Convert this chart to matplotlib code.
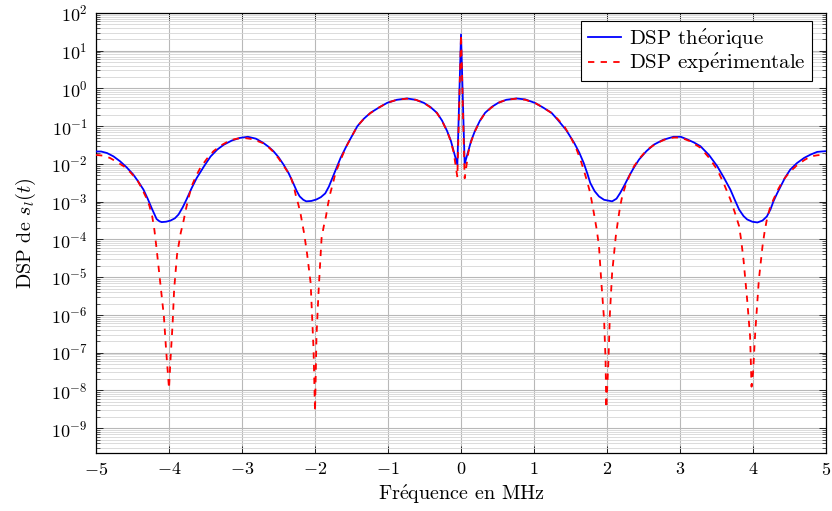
import numpy as np
import matplotlib
matplotlib.use("Agg")
import matplotlib.pyplot as plt
from matplotlib.ticker import LogLocator, FixedLocator, NullFormatter

plt.rcParams["font.family"] = ["cmr10", "DejaVu Serif"]
plt.rcParams["mathtext.fontset"] = "cm"
plt.rcParams["axes.formatter.use_mathtext"] = True

# DSP théorique : fréquence (MHz) et log10 de la densité
f_theo = [-5.00, -4.93, -4.85, -4.76, -4.67, -4.58, -4.49, -4.42, -4.35, -4.29,
          -4.24, -4.20, -4.17, -4.13, -4.10, -4.04, -3.98, -3.92, -3.87, -3.81,
          -3.76, -3.69, -3.62, -3.52, -3.43, -3.34, -3.25, -3.14, -3.03, -2.92,
          -2.81, -2.71, -2.64, -2.57, -2.50, -2.43, -2.36, -2.30, -2.25, -2.21,
          -2.16, -2.12, -2.05, -1.98, -1.92, -1.86, -1.81, -1.77, -1.71, -1.65,
          -1.56, -1.50, -1.42, -1.33, -1.24, -1.12, -1.01, -0.88, -0.74, -0.62,
          -0.51, -0.42, -0.33, -0.26, -0.19, -0.14, -0.10, -0.05, 0.00, 0.05,
          0.10, 0.14, 0.19, 0.26, 0.33, 0.42, 0.51, 0.62, 0.76, 0.88,
          1.01, 1.12, 1.24, 1.32, 1.44, 1.55, 1.62, 1.68, 1.73, 1.77,
          1.83, 1.89, 1.96, 2.07, 2.13, 2.18, 2.24, 2.30, 2.37, 2.44,
          2.54, 2.64, 2.77, 2.91, 3.01, 3.10, 3.19, 3.28, 3.40, 3.51,
          3.60, 3.69, 3.75, 3.81, 3.87, 3.92, 3.99, 4.06, 4.13, 4.19,
          4.24, 4.28, 4.33, 4.38, 4.44, 4.51, 4.60, 4.70, 4.79, 4.88, 5.00]
log_theo = [-1.67, -1.67, -1.71, -1.80, -1.93, -2.09, -2.28, -2.47, -2.68, -2.93,
            -3.16, -3.33, -3.46, -3.52, -3.54, -3.53, -3.50, -3.44, -3.34, -3.14,
            -2.94, -2.64, -2.37, -2.06, -1.80, -1.62, -1.49, -1.38, -1.31, -1.28,
            -1.33, -1.44, -1.54, -1.66, -1.82, -2.02, -2.25, -2.50, -2.72, -2.86,
            -2.95, -2.99, -2.98, -2.94, -2.88, -2.78, -2.60, -2.41, -2.12, -1.84,
            -1.49, -1.28, -1.00, -0.80, -0.645, -0.50, -0.38, -0.30, -0.265, -0.30,
            -0.38, -0.49, -0.645, -0.85, -1.13, -1.38, -1.66, -2.02, 1.43, -2.00,
            -1.66, -1.38, -1.13, -0.85, -0.645, -0.49, -0.38, -0.30, -0.265, -0.29,
            -0.38, -0.50, -0.645, -0.82, -1.10, -1.44, -1.70, -1.97, -2.25, -2.50,
            -2.72, -2.86, -2.95, -2.99, -2.92, -2.77, -2.56, -2.33, -2.09, -1.88,
            -1.66, -1.49, -1.36, -1.28, -1.28, -1.35, -1.43, -1.53, -1.77, -2.06,
            -2.36, -2.68, -2.95, -3.21, -3.38, -3.47, -3.53, -3.55, -3.50, -3.39,
            -3.20, -2.99, -2.78, -2.59, -2.36, -2.15, -1.98, -1.84, -1.75, -1.68, -1.66]

# DSP expérimentale
f_exp = [-5.00, -4.90, -4.81, -4.72, -4.62, -4.53, -4.44, -4.38, -4.32, -4.27,
         -4.23, -4.20, -4.17, -4.12, -4.07, -4.04, -4.00, -3.98, -3.95, -3.93,
         -3.89, -3.84, -3.80, -3.77, -3.73, -3.69, -3.63, -3.57, -3.48, -3.39,
         -3.28, -3.16, -3.07, -2.98, -2.86, -2.71, -2.64, -2.57, -2.50, -2.43,
         -2.37, -2.33, -2.29, -2.26, -2.23, -2.20, -2.15, -2.11, -2.06, -2.04,
         -2.02, -2.00, -1.98, -1.95, -1.92, -1.91, -1.88, -1.85, -1.82, -1.79,
         -1.75, -1.72, -1.66, -1.61, -1.56, -1.50, -1.42, -1.33, -1.24, -1.12,
         -1.01, -0.88, -0.74, -0.62, -0.51, -0.42, -0.33, -0.26, -0.19, -0.14,
         -0.10, -0.05, 0.00, 0.05, 0.10, 0.14, 0.19, 0.26, 0.33, 0.42,
         0.51, 0.62, 0.76, 0.88, 1.01, 1.12, 1.24, 1.33, 1.42, 1.50,
         1.58, 1.63, 1.68, 1.73, 1.77, 1.82, 1.86, 1.89, 1.92, 1.96,
         1.98, 1.99, 2.02, 2.04, 2.07, 2.12, 2.15, 2.18, 2.21, 2.25,
         2.31, 2.37, 2.46, 2.55, 2.68, 2.82, 2.92, 3.01, 3.14, 3.28,
         3.40, 3.51, 3.60, 3.69, 3.75, 3.81, 3.84, 3.87, 3.92, 3.96,
         3.98, 4.00, 4.03, 4.08, 4.13, 4.16, 4.19, 4.23, 4.28, 4.35,
         4.42, 4.51, 4.61, 4.70, 4.79, 4.88, 5.00]
log_exp = [-1.76, -1.78, -1.84, -1.94, -2.06, -2.22, -2.41, -2.62, -2.86, -3.10,
           -3.39, -3.75, -4.25, -5.15, -6.04, -6.92, -7.95, -7.19, -6.21, -5.33,
           -4.40, -3.83, -3.50, -3.21, -2.88, -2.59, -2.32, -2.10, -1.86, -1.66,
           -1.50, -1.37, -1.33, -1.31, -1.34, -1.45, -1.55, -1.68, -1.85, -2.05,
           -2.22, -2.36, -2.60, -2.86, -3.06, -3.30, -3.83, -4.36, -5.15, -6.04,
           -6.92, -8.56, -6.57, -5.33, -4.27, -3.96, -3.65, -3.39, -3.05, -2.77,
           -2.48, -2.24, -1.95, -1.71, -1.50, -1.28, -1.00, -0.80, -0.65, -0.50,
           -0.38, -0.30, -0.27, -0.30, -0.38, -0.50, -0.65, -0.86, -1.14, -1.40,
           -1.70, -2.35, 1.43, -2.38, -1.70, -1.40, -1.14, -0.86, -0.65, -0.50,
           -0.38, -0.30, -0.27, -0.30, -0.38, -0.50, -0.65, -0.82, -1.02, -1.28,
           -1.60, -1.85, -2.15, -2.48, -2.77, -3.30, -3.75, -4.18, -5.07, -6.13,
           -7.19, -8.47, -7.19, -5.95, -4.89, -3.92, -3.50, -3.12, -2.84, -2.59,
           -2.30, -2.06, -1.82, -1.62, -1.45, -1.33, -1.30, -1.30, -1.40, -1.57,
           -1.84, -2.15, -2.52, -2.94, -3.28, -3.65, -4.05, -4.54, -5.60, -6.57,
           -7.90, -7.54, -6.48, -5.07, -4.18, -3.78, -3.47, -3.18, -2.94, -2.65,
           -2.41, -2.20, -2.02, -1.90, -1.80, -1.77, -1.75]

x_ticks = np.arange(-5, 6)
y_decades = 10.0 ** np.arange(-9, 3)

fig = plt.figure(figsize=(8.32, 5.11), dpi=100)
ax = fig.add_axes([0.1154, 0.1135, 0.8774, 0.8611])

e_acc = r"$\mathrm{\acute{e}}$"
ax.plot(f_theo, 10.0 ** np.array(log_theo), color="blue", lw=1.3,
        label="DSP th" + e_acc + "orique", zorder=3)
ax.plot(f_exp, 10.0 ** np.array(log_exp), color="red", lw=1.3,
        dashes=(3.5, 3.5), label="DSP exp" + e_acc + "rimentale", zorder=4)

ax.set_yscale("log")
ax.set_xlim(-5, 5)
ax.set_ylim(2.2e-10, 100)

ax.xaxis.set_major_locator(FixedLocator(x_ticks))
ax.yaxis.set_major_locator(FixedLocator(y_decades))
ax.yaxis.set_minor_locator(LogLocator(base=10, subs=np.arange(2, 10), numticks=20))
ax.yaxis.set_minor_formatter(NullFormatter())

ax.grid(True, which="major", color="#b8b8b8", lw=0.8)
ax.grid(True, which="minor", axis="y", color="#d6d6d6", lw=0.6)
ax.set_axisbelow(True)

ax.tick_params(which="both", direction="in", top=True, right=True,
               labelsize=13, color="#222222")
ax.tick_params(which="major", length=5, width=0.7, pad=6)
ax.tick_params(which="minor", length=3, width=0.5)
for s in ax.spines.values():
    s.set_linewidth(0.9)

ax.set_xlabel("Fr" + e_acc + "quence en MHz", fontsize=14.5, labelpad=3)
ax.set_ylabel(r"DSP de $s_l(t)$", fontsize=14.5, labelpad=9)

leg = ax.legend(loc="upper right", fontsize=15, fancybox=False, framealpha=1,
                edgecolor="black", handlelength=1.6, borderpad=0.3,
                labelspacing=0.05, handletextpad=0.4, borderaxespad=0,
                bbox_to_anchor=(0.981, 0.982))
leg.get_frame().set_linewidth(0.8)

fig.savefig("out.png", dpi=100)
